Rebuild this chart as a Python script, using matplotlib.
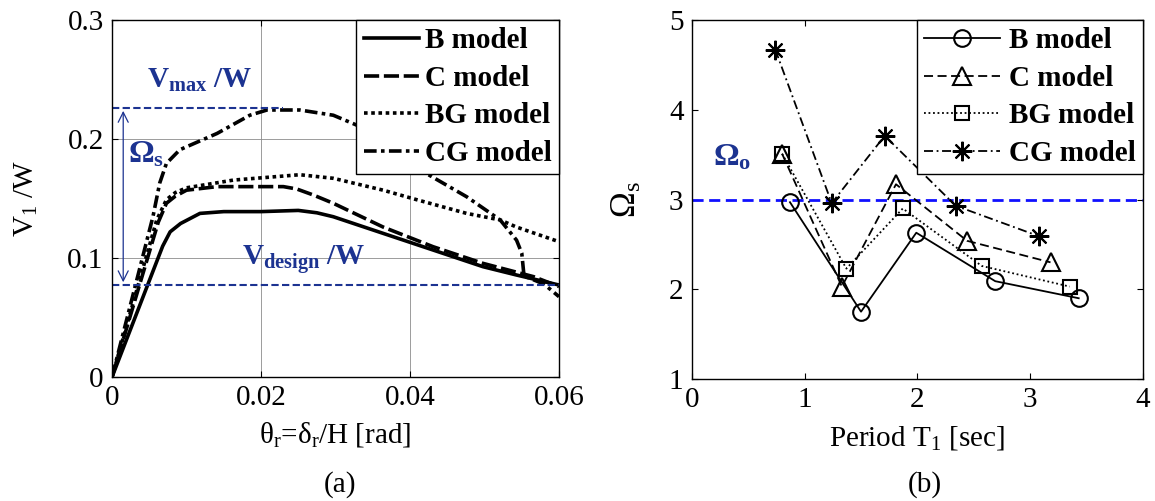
import numpy as np
import matplotlib.pyplot as plt

# 공통 글꼴 설정 (Times 대신 Liberation Serif)
plt.rcParams['font.family'] = ['Liberation Serif', 'DejaVu Serif']
plt.rcParams['mathtext.fontset'] = 'custom'
plt.rcParams['mathtext.rm'] = 'Liberation Serif'
plt.rcParams['mathtext.it'] = 'Liberation Serif:italic'
plt.rcParams['mathtext.bf'] = 'Liberation Serif:bold'

# (a) pushover 곡선 : drift ratio vs V1/W
b_x = [0, 0.0068, 0.0078, 0.0092, 0.0118, 0.015, 0.020, 0.025, 0.0275, 0.0297, 0.0364, 0.0431, 0.0498, 0.0543, 0.060]
b_y = [0, 0.110, 0.122, 0.129, 0.1375, 0.139, 0.139, 0.140, 0.138, 0.1347, 0.1207, 0.1067, 0.0927, 0.0857, 0.0773]

c_x = [0, 0.0062, 0.0073, 0.0085, 0.0100, 0.0141, 0.0230, 0.0248, 0.0270, 0.0297, 0.0364, 0.0431, 0.0498, 0.0566, 0.060]
c_y = [0, 0.130, 0.146, 0.152, 0.157, 0.160, 0.160, 0.158, 0.153, 0.146, 0.126, 0.1095, 0.0955, 0.0843, 0.076]

bg_x = [0, 0.0060, 0.0073, 0.0085, 0.0100, 0.0163, 0.0252, 0.0297, 0.0364, 0.0409, 0.0476, 0.0521, 0.0543, 0.060]
bg_y = [0, 0.132, 0.149, 0.155, 0.159, 0.1655, 0.170, 0.167, 0.157, 0.149, 0.1375, 0.132, 0.126, 0.1137]

cg_x = [0, 0.0055, 0.0064, 0.0073, 0.0091, 0.0141, 0.0185, 0.0208, 0.0252, 0.0297, 0.0328, 0.0375, 0.0422, 0.0476, 0.0521, 0.0543, 0.0550, 0.0553, 0.058, 0.060]
cg_y = [0, 0.135, 0.163, 0.1795, 0.191, 0.2047, 0.220, 0.2244, 0.2244, 0.220, 0.2118, 0.193, 0.171, 0.1515, 0.132, 0.115, 0.104, 0.085, 0.078, 0.0675]

v_max = 0.226
v_design = 0.0773
v_max_end = 0.023

# (b) 주기 vs 초과강도계수
b_T = [0.87, 1.50, 1.99, 2.69, 3.43]
b_om = [2.97, 1.75, 2.63, 2.09, 1.90]
c_T = [0.80, 1.33, 1.81, 2.44, 3.18]
c_om = [3.51, 2.03, 3.17, 2.54, 2.30]
bg_T = [0.80, 1.37, 1.87, 2.57, 3.35]
bg_om = [3.51, 2.23, 2.90, 2.26, 2.03]
cg_T = [0.74, 1.24, 1.71, 2.34, 3.08]
cg_om = [4.67, 2.96, 3.71, 2.93, 2.59]
omega_o = 3.0

labels = ['B model', 'C model', 'BG model', 'CG model']
navy = '#1c3391'

fig = plt.figure(figsize=(11.55, 5.01), dpi=100)
ax1 = fig.add_axes([0.097, 0.2475, 0.387, 0.7125])
ax2 = fig.add_axes([0.599, 0.2435, 0.3906, 0.7165])

# ---- (a) ----
lw = 2.6
ax1.plot(b_x, b_y, color='k', lw=lw, linestyle='-', label=labels[0])
ax1.plot(c_x, c_y, color='k', lw=lw, linestyle=(0, (4.2, 1.3)), label=labels[1])
ax1.plot(bg_x, bg_y, color='k', lw=lw, linestyle=(0, (1.0, 1.0)), label=labels[2])
ax1.plot(cg_x, cg_y, color='k', lw=lw, linestyle=(0, (3.5, 1.2, 1.0, 1.2)), label=labels[3])

ax1.plot([0, v_max_end], [v_max, v_max], color=navy, lw=1.5, linestyle=(0, (3.5, 1.6)))
ax1.plot([0, 0.06], [v_design, v_design], color=navy, lw=1.5, linestyle=(0, (3.5, 1.6)))
ax1.annotate('', xy=(0.0015, v_design), xytext=(0.0015, v_max),
             arrowprops=dict(arrowstyle='<->', color=navy, lw=0.9, mutation_scale=18))

ax1.text(0.0047, 0.243, 'V$_\\mathbf{max}$ /W', color=navy, fontsize=21, fontweight='bold')
ax1.text(0.0021, 0.180, 'Ω$_\\mathbf{s}$', color=navy, fontsize=23, fontweight='bold')
ax1.text(0.0174, 0.094, 'V$_\\mathbf{design}$ /W', color=navy, fontsize=21, fontweight='bold')

ax1.set_xlim(0, 0.06)
ax1.set_ylim(0, 0.3)
ax1.set_xticks([0, 0.02, 0.04, 0.06])
ax1.set_xticklabels(['0', '0.02', '0.04', '0.06'])
ax1.set_yticks([0, 0.1, 0.2, 0.3])
ax1.set_yticklabels(['0', '0.1', '0.2', '0.3'])
ax1.grid(True, color='0.55', lw=0.6)
ax1.set_xlabel('θ$_\\mathrm{r}$=δ$_\\mathrm{r}$/H [rad]', fontsize=21, labelpad=6)
ax1.set_ylabel('V$_\\mathrm{1}$ /W', fontsize=21, labelpad=20)
leg1 = ax1.legend(loc='upper right', borderaxespad=0, fancybox=False, framealpha=1,
                  edgecolor='k', handlelength=1.9, handletextpad=0.2, borderpad=0.25,
                  labelspacing=0.36, prop={'size': 21, 'weight': 'bold'})
leg1.get_frame().set_linewidth(1.0)

# ---- (b) ----
ax2.axhline(omega_o, color='#1010ff', lw=2.0, linestyle=(0, (4, 2)))
ax2.plot(b_T, b_om, color='k', lw=1.3, linestyle='-', marker='o', ms=12, mfc='none', mew=1.5, label=labels[0])
ax2.plot(c_T, c_om, color='k', lw=1.3, linestyle=(0, (5, 2.5)), marker='^', ms=13, mfc='none', mew=1.5, label=labels[1])
ax2.plot(bg_T, bg_om, color='k', lw=1.3, linestyle=(0, (1, 1.5)), marker='s', ms=10, mfc='none', mew=1.5, label=labels[2])
ax2.plot(cg_T, cg_om, color='k', lw=1.3, linestyle=(0, (5, 2, 1, 2)), marker=(8, 2, 0), ms=14, mew=1.5, label=labels[3])

ax2.text(0.19, 3.38, 'Ω$_\\mathbf{o}$', color=navy, fontsize=23, fontweight='bold')

ax2.set_xlim(0, 4)
ax2.set_ylim(1, 5)
ax2.set_xticks([0, 1, 2, 3, 4])
ax2.set_yticks([1, 2, 3, 4, 5])
ax2.set_xlabel('Period T$_\\mathrm{1}$ [sec]', fontsize=21, labelpad=8)
ax2.set_ylabel('Ω$_\\mathrm{s}$', fontsize=25, labelpad=18)
leg2 = ax2.legend(loc='upper right', borderaxespad=0, fancybox=False, framealpha=1,
                  edgecolor='k', handlelength=2.6, handletextpad=0.3, borderpad=0.25,
                  labelspacing=0.36, prop={'size': 21, 'weight': 'bold'})
leg2.get_frame().set_linewidth(1.0)

for ax in (ax1, ax2):
    ax.tick_params(direction='in', length=4, width=0.8, top=True, right=True,
                   labelsize=21, pad=6)
    for sp in ax.spines.values():
        sp.set_linewidth(1.0)

fig.text(0.294, 0.032, '(a)', fontsize=21, ha='center', va='center')
fig.text(0.801, 0.032, '(b)', fontsize=21, ha='center', va='center')

plt.savefig('out.png', dpi=100)
plt.close()
